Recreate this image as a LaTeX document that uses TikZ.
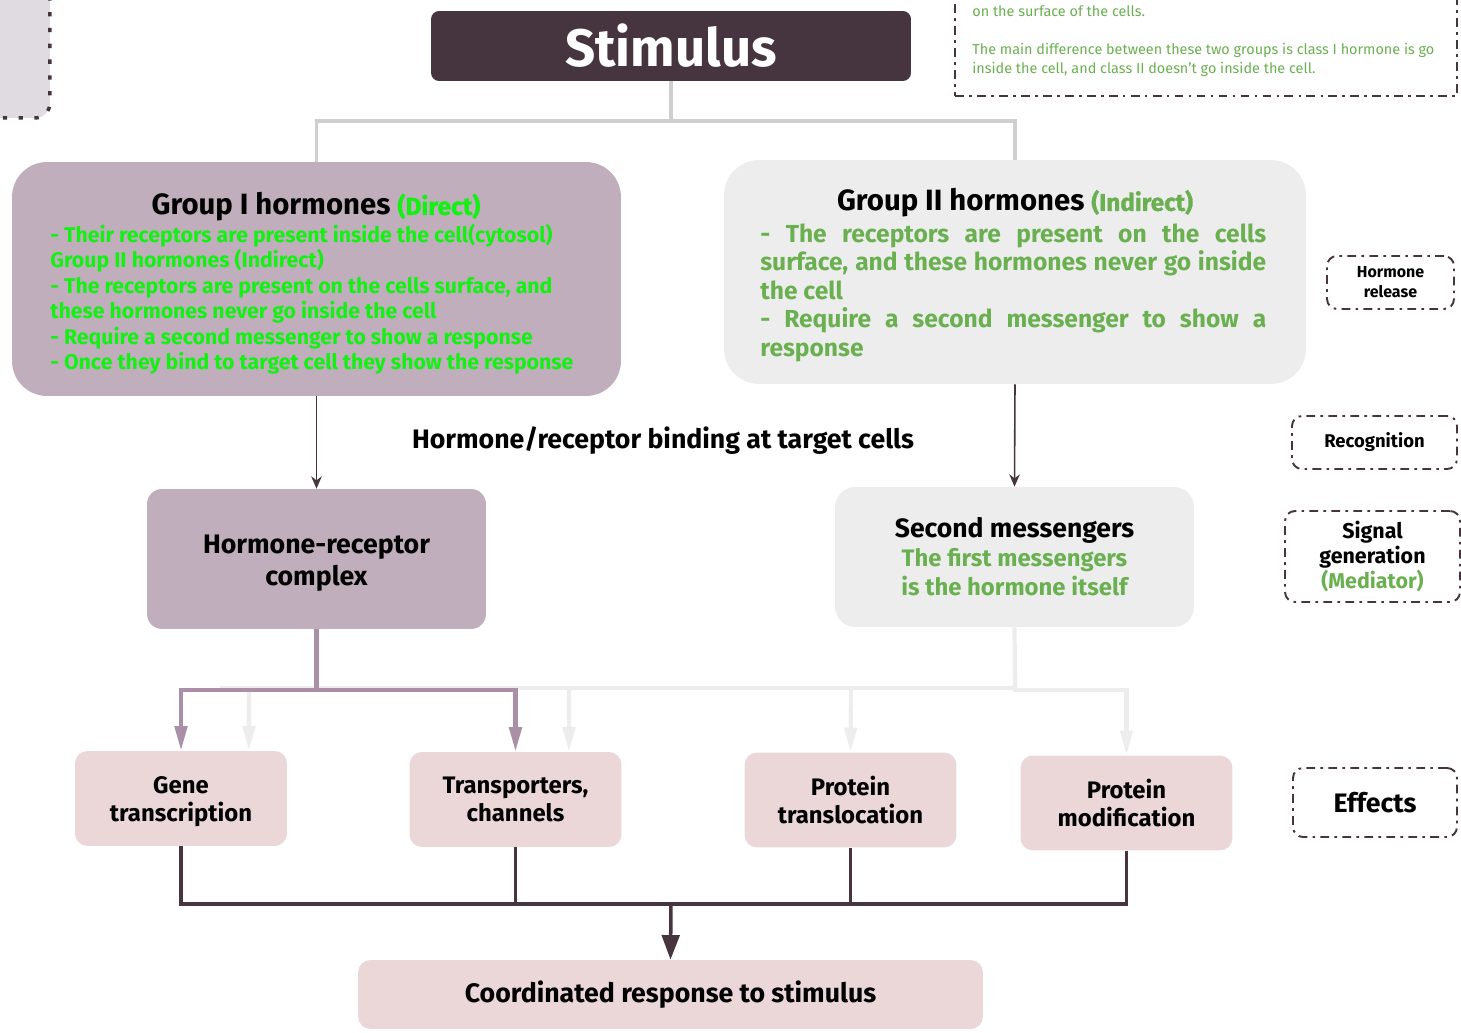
\documentclass[tikz,border=0pt]{standalone}
\usepackage{fontspec}
\setmainfont{Fira Sans}
\newfontfamily\medium{Fira Sans}[FakeBold=1.2]
\usetikzlibrary{arrows.meta}

\definecolor{plum}{RGB}{70,53,63}
\definecolor{mauve}{RGB}{192,174,188}
\definecolor{mauveline}{RGB}{169,144,166}
\definecolor{paper}{RGB}{237,237,237}
\definecolor{silver}{RGB}{207,207,207}
\definecolor{blush}{RGB}{235,215,216}
\definecolor{lime}{RGB}{20,240,20}
\definecolor{leaf}{RGB}{106,176,80}
\definecolor{fog}{RGB}{224,219,224}

\newcommand{\sz}[2]{\fontsize{#1pt}{#2pt}\selectfont}

\begin{document}
\begin{tikzpicture}[x=0.02cm, y=-0.02cm,
    card/.style={inner sep=0pt, align=center, font=\bfseries},
    effect/.style={card, fill=blush, rounded corners=0.25cm, minimum width=4.24cm, minimum height=1.9cm},
    tag/.style={card, draw=plum, line width=1.1pt, dash pattern=on 5pt off 3pt on 1.5pt off 3pt, rounded corners=0.2cm},
    link/.style={silver, line width=2.2pt},
    thin/.style={plum, line width=0.9pt, -{Stealth[length=7pt, width=6pt]}},
    pline/.style={mauveline, line width=2.4pt},
    gline/.style={paper, line width=2.4pt},
    tip/.style={-{Triangle[length=14pt, width=7pt]}},
    dline/.style={plum, line width=2pt}]
    \useasboundingbox (0,0) rectangle (1461,1033);

    \node [fill=fog, draw=plum, line width=2pt, dash pattern=on 2.5pt off 6.5pt, rounded corners=0.3cm,
        minimum width=3cm, minimum height=4.36cm] (side) at (-25,9) {};
    \node [draw=plum, line width=1pt, dash pattern=on 5pt off 3pt on 1.5pt off 3pt,
        minimum width=10.04cm, minimum height=2.52cm] (note) at (1206,33) {};
    \node [anchor=north west, inner sep=0pt, align=left, text=leaf, font=\sz{8.2}{10.8}] (notetext) at (972,5)
        {on the surface of the cells.\\[10.8pt]
        The main difference between these two groups is class I hormone is go\\
        inside the cell, and class II doesn't go inside the cell.};

    \node [card, fill=plum, text=white, rounded corners=0.16cm, minimum width=9.6cm, minimum height=1.4cm,
        font=\bfseries\sz{30}{34}] (stim) at (671,46) {Stimulus};

    \node [fill=mauve, rounded corners=0.7cm, minimum width=12.18cm, minimum height=4.68cm] (g1) at (316.5,279) {};
    \node [card, font=\bfseries\sz{16.7}{20}] (g1head) at (316,207) {Group I hormones \textcolor{lime}{\medium\sz{14}{20}(Direct)}};
    \node [anchor=north west, inner sep=0pt, align=left, text=lime, font=\bfseries\sz{12.1}{14.5}] (g1body) at (50,223.5)
        {- Their receptors are present inside the cell(cytosol)\\
        Group II hormones (Indirect)\\
        - The receptors are present on the cells surface, and\\
        these hormones never go inside the cell\\
        - Require a second messenger to show a response\\
        - Once they bind to target cell they show the response};

    \node [fill=paper, rounded corners=0.7cm, minimum width=11.64cm, minimum height=4.48cm] (g2) at (1015,272) {};
    \node [card, font=\bfseries\sz{16.7}{20}] (g2head) at (1015,203) {Group II hormones \textcolor{leaf}{\medium\sz{13.8}{20}(Indirect)}};
    \node [anchor=north west, inner sep=0pt, text width=10.12cm, align=justify, text=leaf,
        font=\bfseries\sz{14}{16.3}] (g2body) at (760,223)
        {\hyphenpenalty=10000\relax
        - The receptors are present on the cells\linebreak
        surface, and these hormones never go inside\linebreak
        the cell\\
        - Require a second messenger to show a\linebreak
        response};

    \node [card, font=\bfseries\sz{15.2}{18}] (bind) at (663,441) {Hormone/receptor binding at target cells};

    \node [card, fill=mauve, rounded corners=0.3cm, minimum width=6.78cm, minimum height=2.8cm,
        font=\bfseries\sz{15.2}{18.1}] (hrc) at (316.5,559) {\mbox{}\\[-3pt]Hormone-receptor\\complex};
    \node [card, fill=paper, rounded corners=0.4cm, minimum width=7.18cm, minimum height=2.8cm,
        font=\bfseries\sz{15.1}{16.5}] (sm) at (1014.5,557) {Second messengers\\
        \textcolor{leaf}{\sz{13.6}{16}The first messengers}\\
        \textcolor{leaf}{\sz{13.6}{16}is the hormone itself}};

    \node [effect, font=\bfseries\sz{13.6}{15.9}] (gene) at (181,798.5) {\mbox{}\\[-3pt]Gene\\transcription};
    \node [effect, font=\bfseries\sz{13.6}{15.9}] (trans) at (515.5,799.5) {Transporters,\\channels};
    \node [effect, font=\bfseries\sz{13.6}{15.9}] (prot) at (850.5,800) {Protein\\translocation};
    \node [effect, font=\bfseries\sz{13.6}{15.9}] (mod) at (1126.5,803) {Protein\\modification};
    \node [card, fill=blush, rounded corners=0.25cm, minimum width=12.5cm, minimum height=1.38cm,
        font=\bfseries\sz{15.2}{18}] (coord) at (670.5,994.5) {Coordinated response to stimulus};

    \node [tag, minimum width=2.54cm, minimum height=1.06cm, font=\bfseries\sz{9.1}{11.3}] (hrel) at (1390.5,282.5) {Hormone\\release};
    \node [tag, minimum width=3.3cm, minimum height=1.06cm, font=\bfseries\sz{10.5}{12}] (recog) at (1374.5,442.5) {Recognition};
    \node [tag, minimum width=3.5cm, minimum height=1.82cm, font=\bfseries\sz{12.2}{14.2}] (sig) at (1372.5,556.5) {Signal\\generation\\\textcolor{leaf}{(Mediator)}};
    \node [tag, minimum width=3.28cm, minimum height=1.38cm, font=\bfseries\sz{15.2}{18}] (eff) at (1375,802.5) {Effects};

    \coordinate (top) at (671,121);
    \draw [link] (stim.south) -- (top) -| (g1.north);
    \draw [link] (top) -| (g2.north);

    \draw [thin] (g1.south) -- (hrc.north);
    \draw [thin] (g2.south) -- (sm.north);

    \coordinate (smj) at (1015,688);
    \draw [gline] (sm.south) -- (smj) -- (220,688);
    \draw [gline, tip] (smj) -- (1015,690) -| (mod.north);
    \draw [gline, tip] (249,688) -- ([xshift=1.36cm]gene.north);
    \draw [gline, tip] (569,688) -- ([xshift=1.07cm]trans.north);
    \draw [gline, tip] (851,688) -- (prot.north);

    \coordinate (hrj) at (316.5,690);
    \draw [pline] (hrc.south) -- (hrj);
    \draw [pline, tip] (hrj) -| (gene.north);
    \draw [pline, tip] (hrj) -| (trans.north);

    \coordinate (low) at (671,904);
    \draw [dline] (gene.south) |- (low) -| (mod.south);
    \draw [dline] (trans.south) -- (trans.south |- low);
    \draw [dline] (prot.south) -- (prot.south |- low);
    \draw [dline, -{Triangle[length=14pt, width=10pt]}] (low) -- (coord.north);
\end{tikzpicture}
\end{document}
